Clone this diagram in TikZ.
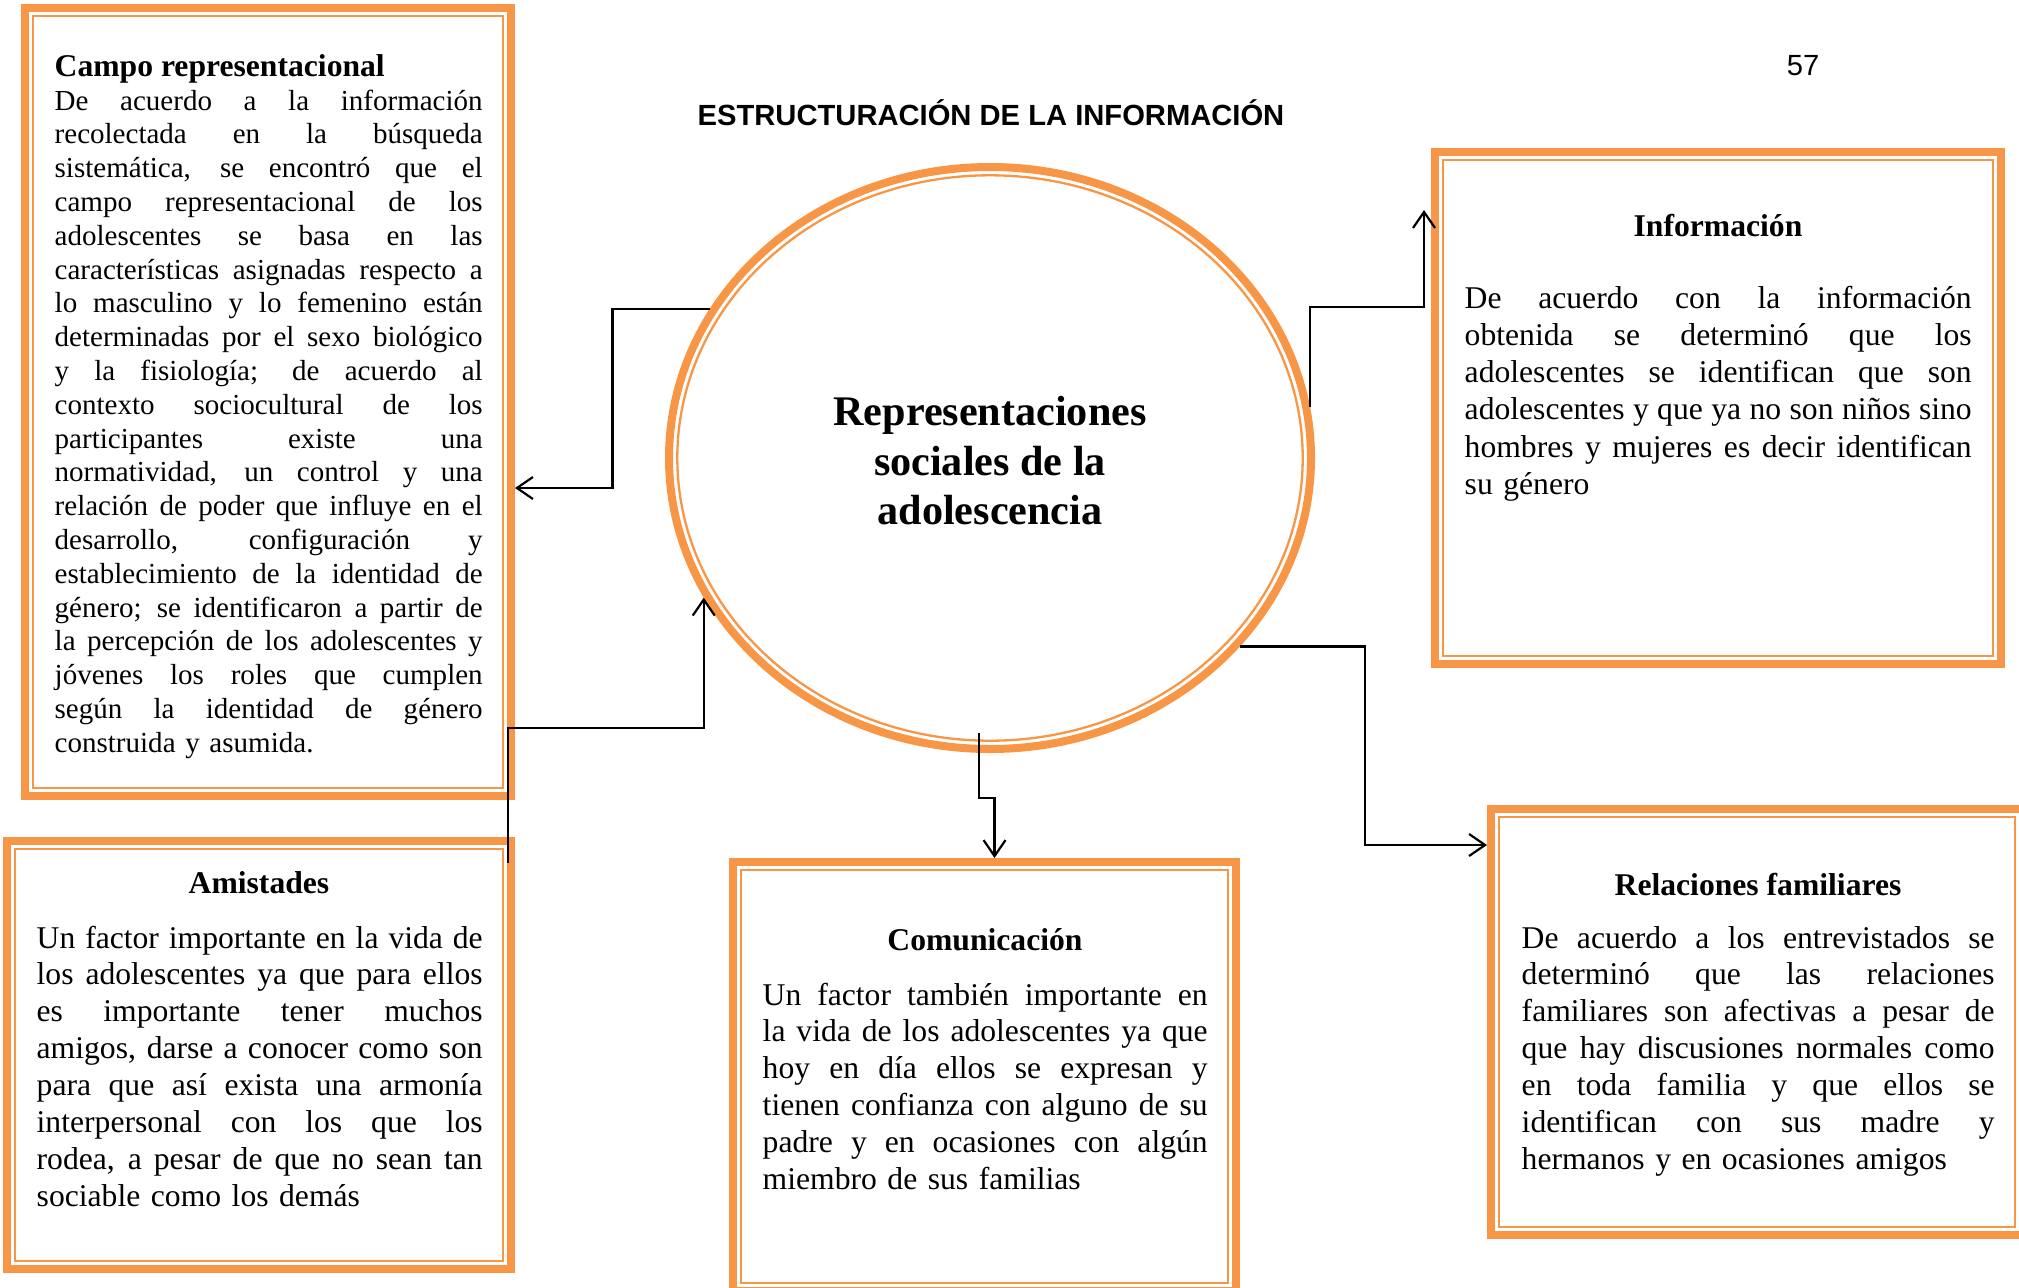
\documentclass[tikz,border=0pt]{standalone}
\usepackage{fontspec}
\setmainfont{Liberation Serif}
\newfontfamily\headsans{Liberation Sans}
\usetikzlibrary{arrows.meta,positioning,shapes.geometric}
\definecolor{naranja}{HTML}{F79646}
\def\ancho{4cm}
\newcommand\jl[1]{\hbox to \ancho{\spaceskip=.25em plus 1fil\relax #1}\par}

\begin{document}
\begin{tikzpicture}[>={Straight Barb[length=1.6mm,width=2.2mm]},flecha/.style={->,line width=0.22mm}]
  \tikzstyle{marco}=[rectangle,draw=naranja,line width=0.8mm,inner sep=0pt]
  \tikzstyle{filete}=[draw=naranja,line width=0.23mm]
  \tikzstyle{cabeza}=[font=\bfseries\fontsize{9}{10.5}\selectfont,inner sep=0pt,anchor=base]
  \tikzstyle{cuerpo}=[font=\fontsize{9}{10.5}\selectfont,inner sep=0pt,anchor=base west]

  \useasboundingbox (0,0) rectangle (20.19,-12.87);
  \clip (0,0) rectangle (20.19,-12.87);

  % cajas
  \node[marco,minimum width=4.86cm,minimum height=7.88cm] (campo) at (2.68,-4.02) {};
  \node[marco,minimum width=5.04cm,minimum height=4.28cm] (amist) at (2.59,-10.55) {};
  \node[marco,minimum width=5.03cm,minimum height=4.29cm] (comun) at (9.845,-10.765) {};
  \node[marco,minimum width=5.32cm,minimum height=4.26cm] (relac) at (17.57,-10.22) {};
  \node[marco,minimum width=5.66cm,minimum height=5.12cm] (info) at (17.18,-4.08) {};
  \node[ellipse,draw=naranja,line width=0.8mm,minimum width=6.42cm,minimum height=5.82cm] (core) at (9.90,-4.58) {};
  \node[align=center,font=\bfseries\fontsize{12}{14.1}\selectfont] (coretxt) at ([yshift=-0.03cm]core.center)
        {Representaciones\\sociales de la\\adolescencia};

  \foreach \b in {campo,amist,comun,relac,info}
    \draw[filete] ([shift={(0.123,-0.123)}]\b.north west) rectangle ([shift={(-0.123,0.123)}]\b.south east);
  \draw[filete] (core.center) ellipse [x radius=3.127cm, y radius=2.827cm];

  \node[font=\headsans\bfseries\fontsize{8.3}{10}\selectfont,anchor=base] (titulo) at (9.91,-1.25)
        {ESTRUCTURACIÓN DE LA INFORMACIÓN};
  \node[font=\headsans\fontsize{8.3}{10}\selectfont,anchor=base] (pagina) at (18.03,-0.75) {57};

  % textos
  \node[cabeza,anchor=base west] (campocab) at (0.54,-0.76) {Campo representacional};
  \node[cuerpo,text width=4.28cm,font=\fontsize{8.26}{9.62}\selectfont] (campotxt) at (0.54,-1.10) {%
    \def\ancho{4.28cm}%
    \jl{De acuerdo a la información}
    \jl{recolectada en la búsqueda}
    \jl{sistemática, se encontró que el}
    \jl{campo representacional de los}
    \jl{adolescentes se basa en las}
    \jl{características asignadas respecto a}
    \jl{lo masculino y lo femenino están}
    \jl{determinadas por el sexo biológico}
    \jl{y la fisiología; de acuerdo al}
    \jl{contexto sociocultural de los}
    \jl{participantes existe una}
    \jl{normatividad, un control y una}
    \jl{relación de poder que influye en el}
    \jl{desarrollo, configuración y}
    \jl{establecimiento de la identidad de}
    \jl{género; se identificaron a partir de}
    \jl{la percepción de los adolescentes y}
    \jl{jóvenes los roles que cumplen}
    \jl{según la identidad de género}
    construida y asumida.};

  \node[cabeza] (amistcab) at (2.59,-8.93) {Amistades};
  \node[cuerpo,text width=4.46cm] (amisttxt) at (0.36,-9.48) {%
    \def\ancho{4.46cm}%
    \jl{Un factor importante en la vida de}
    \jl{los adolescentes ya que para ellos}
    \jl{es importante tener muchos}
    \jl{amigos, darse a conocer como son}
    \jl{para que así exista una armonía}
    \jl{interpersonal con los que los}
    \jl{rodea, a pesar de que no sean tan}
    sociable como los demás};

  \node[cabeza] (comuncab) at (9.85,-9.50) {Comunicación};
  \node[cuerpo,text width=4.45cm] (comuntxt) at (7.62,-10.05) {%
    \def\ancho{4.45cm}%
    \jl{Un factor también importante en}
    \jl{la vida de los adolescentes ya que}
    \jl{hoy en día ellos se expresan y}
    \jl{tienen confianza con alguno de su}
    \jl{padre y en ocasiones con algún}
    miembro de sus familias};

  \node[cabeza] (relaccab) at (17.58,-8.95) {Relaciones familiares};
  \node[cuerpo,text width=4.73cm] (relactxt) at (15.21,-9.48) {%
    \def\ancho{4.73cm}%
    \jl{De acuerdo a los entrevistados se}
    \jl{determinó que las relaciones}
    \jl{familiares son afectivas a pesar de}
    \jl{que hay discusiones normales como}
    \jl{en toda familia y que ellos se}
    \jl{identifican con sus madre y}
    hermanos y en ocasiones amigos};

  \node[cabeza] (infocab) at (17.18,-2.36) {Información};
  \node[cuerpo,text width=5.07cm,font=\fontsize{9}{10.6}\selectfont] (infotxt) at (14.64,-3.08) {%
    \def\ancho{5.07cm}%
    \jl{De acuerdo con la información}
    \jl{obtenida se determinó que los}
    \jl{adolescentes se identifican que son}
    \jl{adolescentes y que ya no son niños sino}
    \jl{hombres y mujeres es decir identifican}
    su género};

  % conectores
  \draw[flecha] (core.152) -- ++(-0.97,0) |- ([yshift=-0.86cm]campo.east);
  \draw[flecha] ([shift={(-0.07,-0.26)}]amist.north east) |- ([yshift=-1.3cm]core.206) -- (core.206);
  \draw[flecha] (core.9) |- ([shift={(-0.07,1.01)}]info.west) -- ([shift={(-0.07,1.98)}]info.west);
  \draw[flecha] ([shift={(-0.11,0.2)}]core.south) -- ++(0,-0.65) -| ([xshift=0.1cm]comun.north);
  \draw[flecha] (core.-37) -- ++(1.25,0) |- ([yshift=1.77cm]relac.west);
\end{tikzpicture}
\end{document}
